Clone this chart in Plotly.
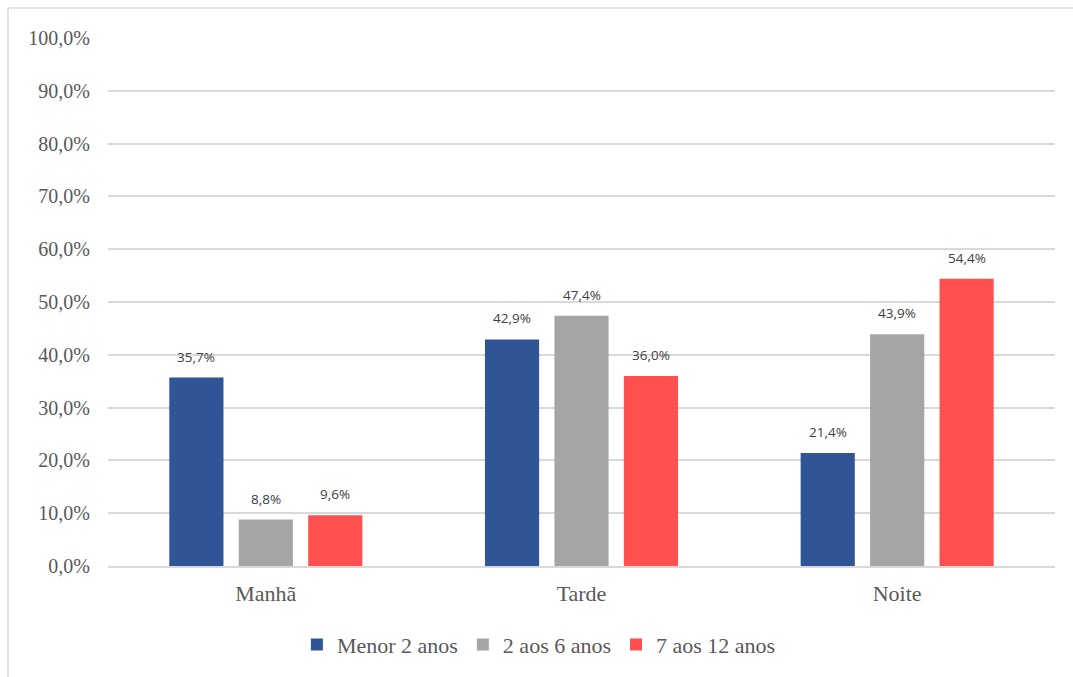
import plotly.graph_objects as go

# Periods of the day and age groups
periods = ["Manhã", "Tarde", "Noite"]
groups = ["Menor 2 anos", "2 aos 6 anos", "7 aos 12 anos"]

menor_2 = [35.7, 42.9, 21.4]
de_2_a_6 = [8.8, 47.4, 43.9]
de_7_a_12 = [9.6, 36.0, 54.4]

y_ticks = [0, 10, 20, 30, 40, 50, 60, 70, 80, 90, 100]

series = [menor_2, de_2_a_6, de_7_a_12]
colors = ["#2F5597", "#A5A5A5", "#FF5050"]

SERIF = "Liberation Serif, Times New Roman, serif"

fig = go.Figure()
for name, vals, col in zip(groups, series, colors):
    fig.add_trace(go.Bar(
        x=periods, y=vals, name=name,
        marker=dict(color=col, line=dict(width=0)),
    ))

# Value labels above each bar
slot_px = 69.5
annotations = []
for i, vals in enumerate(series):
    for p, v in zip(periods, vals):
        annotations.append(dict(
            x=p, y=v, xref="x", yref="y",
            text=f"{v:.1f}%".replace(".", ","),
            showarrow=False, xshift=(i - 1) * slot_px, yshift=21,
            font=dict(family="Open Sans", size=13.5, color="#404040"),
        ))

fig.update_layout(
    width=1073, height=677,
    margin=dict(l=108, r=18, t=38, b=110),
    paper_bgcolor="white", plot_bgcolor="white",
    barmode="group", bargap=0.34, bargroupgap=0.22,
    annotations=annotations,
    showlegend=True,
    legend=dict(
        orientation="h", x=0.455, xanchor="center", y=-0.147, yanchor="middle",
        font=dict(family=SERIF, size=22, color="#595959"),
        itemsizing="constant",
    ),
    font=dict(family=SERIF, color="#595959"),
    shapes=[
        dict(type="line", xref="paper", yref="paper",
             x0=-0.1056, x1=-0.1056, y0=-0.4, y1=1.0567,
             line=dict(color="#D9D9D9", width=1.5), layer="below"),
        dict(type="line", xref="paper", yref="paper",
             x0=-0.1056, x1=1.2, y0=1.0567, y1=1.0567,
             line=dict(color="#D9D9D9", width=1.5), layer="below"),
    ],
)

fig.update_yaxes(
    range=[0, 100], tickvals=y_ticks,
    ticktext=[f"{t:.1f}%".replace(".", ",") for t in y_ticks],
    showgrid=True, gridcolor="#D9D9D9", gridwidth=1.5,
    zeroline=False, showline=False,
    tickfont=dict(family=SERIF, size=20, color="#595959"),
    ticklabelstandoff=17,
)
fig.update_xaxes(
    showline=True, linecolor="#D9D9D9", linewidth=1.5,
    tickfont=dict(family=SERIF, size=22, color="#595959"),
    ticklabelstandoff=7,
)

fig.write_html("out.html")
